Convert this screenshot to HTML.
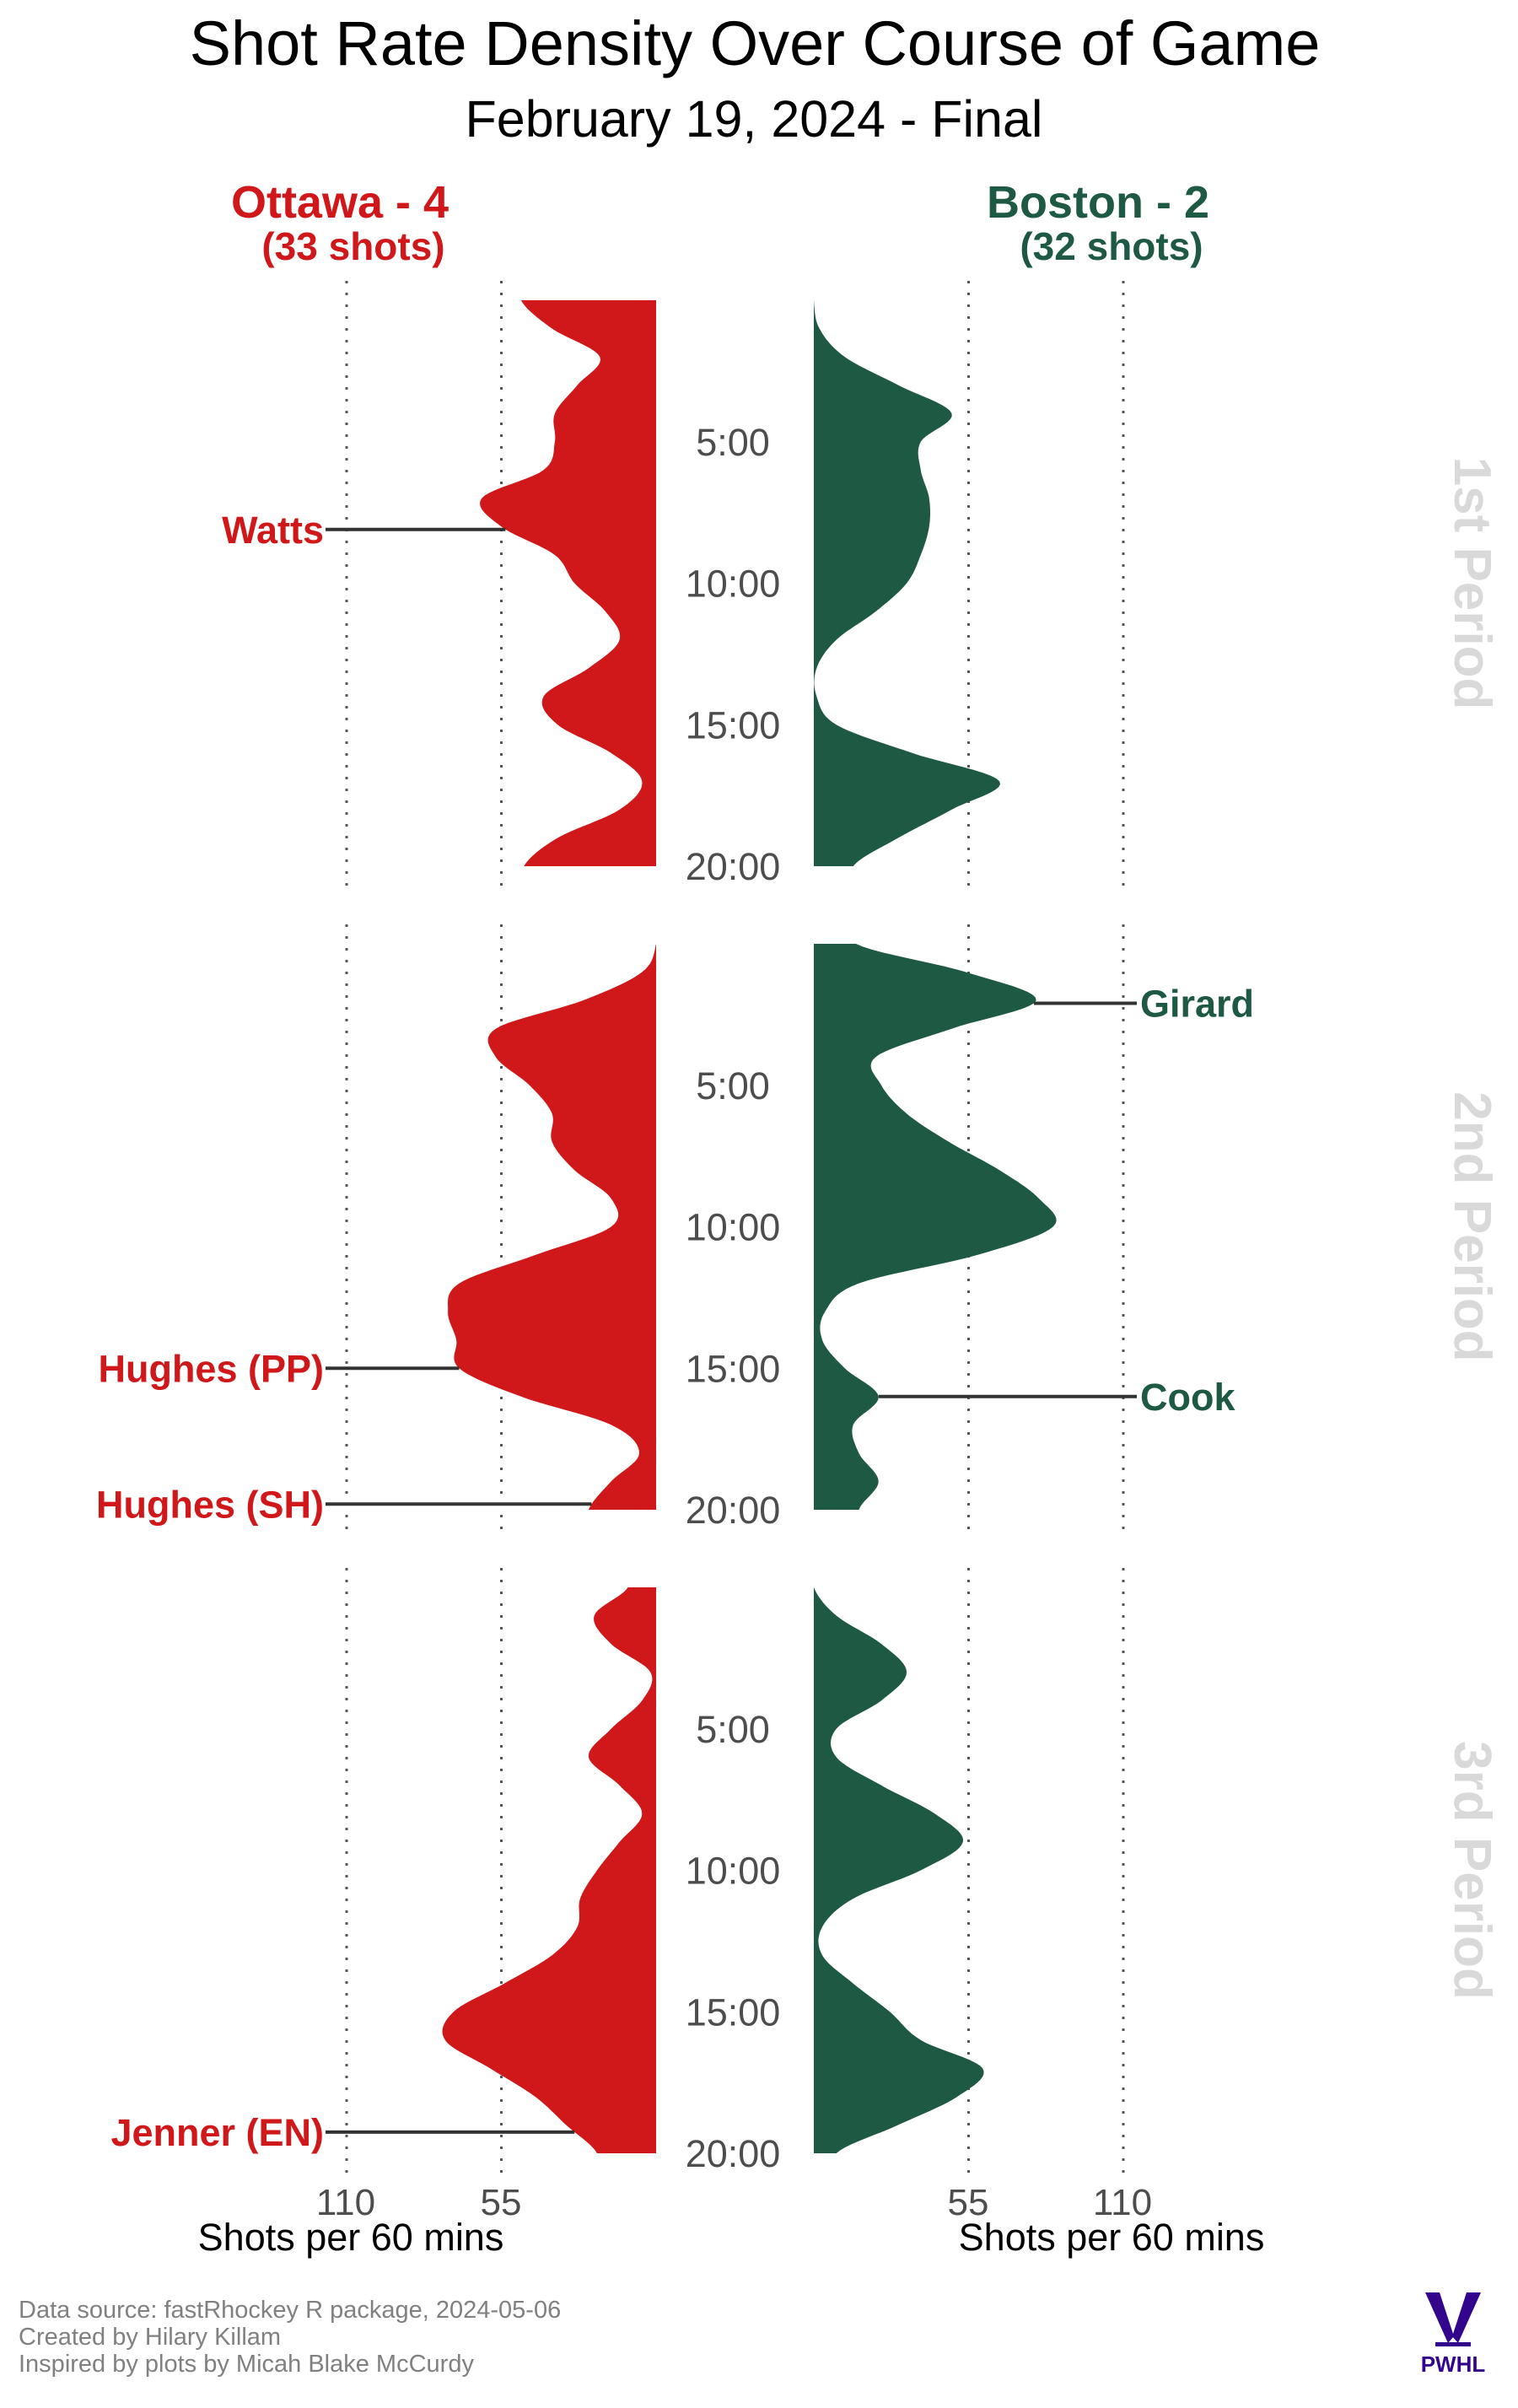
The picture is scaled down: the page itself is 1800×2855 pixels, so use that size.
<!DOCTYPE html>
<html><head><meta charset="utf-8">
<style>
html,body{margin:0;padding:0;background:#fff;}
body{width:1800px;height:2850px;overflow:hidden;font-family:"Liberation Sans",sans-serif;}
</style></head>
<body>
<svg id="chart" width="1800" height="2850" xmlns="http://www.w3.org/2000/svg" font-family="Liberation Sans, sans-serif">
  <text x="895" y="77" font-size="74" text-anchor="middle" fill="#000">Shot Rate Density Over Course of Game</text>
  <text x="894" y="162" font-size="61" text-anchor="middle" fill="#000">February 19, 2024 - Final</text>
  <text x="403" y="258" font-size="54" font-weight="bold" text-anchor="middle" fill="#d0181a">Ottawa - 4</text>
  <text x="419" y="308" font-size="46" font-weight="bold" text-anchor="middle" fill="#d0181a">(33 shots)</text>
  <text x="1302" y="258" font-size="54" font-weight="bold" text-anchor="middle" fill="#1e5a43">Boston - 2</text>
  <text x="1318" y="308" font-size="46" font-weight="bold" text-anchor="middle" fill="#1e5a43">(32 shots)</text>
  <g id="plot"></g>
  <text x="410" y="2626" font-size="44" text-anchor="middle" fill="#4d4d4d">110</text>
  <text x="594" y="2626" font-size="44" text-anchor="middle" fill="#4d4d4d">55</text>
  <text x="1148" y="2626" font-size="44" text-anchor="middle" fill="#4d4d4d">55</text>
  <text x="1331" y="2626" font-size="44" text-anchor="middle" fill="#4d4d4d">110</text>
  <text x="416" y="2668" font-size="45" text-anchor="middle" fill="#000">Shots per 60 mins</text>
  <text x="1318" y="2668" font-size="45" text-anchor="middle" fill="#000">Shots per 60 mins</text>
  <g font-size="29" fill="#808080">
    <text x="22" y="2748">Data source: fastRhockey R package, 2024-05-06</text>
    <text x="22" y="2780">Created by Hilary Killam</text>
    <text x="22" y="2812">Inspired by plots by Micah Blake McCurdy</text>
  </g>
  <g fill="#33058d">
    <polygon points="1690,2718 1707,2718 1724,2770 1717,2778"/>
    <polygon points="1756,2718 1739,2718 1722,2770 1729,2778"/>
    <rect x="1702" y="2777" width="42" height="5"/>
    <text x="1723" y="2812" font-size="26" font-weight="bold" text-anchor="middle">PWHL</text>
  </g>
</svg>
<script>
// shot rate (shots per 60) sampled each minute 0..20, per period
const minutes = [0,1,2,3,4,5,6,7,8,9,10,11,12,13,14,15,16,17,18,19,20];
const ottawaP1 = [48,37,20,28,36,36,40,62,55,36,29,18,13,24,40,35,16,5,13,35,47];
const ottawaP2 = [0,5,26,57,57,45,37,37,29,16,16,43,70,74,71,70,48,16,6,16,24];
const ottawaP3 = [10,22,16,2,5,16,24,13,5,13,21,27,28,37,54,72,75,59,43,32,21];
const bostonP1 = [0,2,11,30,49,38,38,41,41,38,33,22,8,1,1,8,35,66,49,30,14];
const bostonP2 = [15,54,79,49,22,24,33,48,66,80,85,58,16,4,3,11,23,14,16,23,16];
const bostonP3 = [0,8,24,33,24,8,8,24,43,53,38,14,3,3,14,27,38,60,51,30,8];
const timeTicks = ["5:00","10:00","15:00","20:00"];
const periodLabels = ["1st Period","2nd Period","3rd Period"];
// goals: period index, minute, label
const ottawaGoalPeriods = [0,1,1,2];
const ottawaGoalTimes = [8.1,15.0,19.8,19.25];
const ottawaGoalNames = ["Watts","Hughes (PP)","Hughes (SH)","Jenner (EN)"];
const bostonGoalPeriods = [1,1];
const bostonGoalTimes = [2.1,16.0];
const bostonGoalNames = ["Girard","Cook"];
const gridValues = [55,110];

const NS = "http://www.w3.org/2000/svg";
const plot = document.getElementById("plot");
const panelTops = [356,1119,1882];
const panelH = 671;
const leftBase = 778, rightBase = 965, pxPerUnit = 183.5/55;
const xLeft = v => leftBase - v*pxPerUnit;
const xRight = v => rightBase + v*pxPerUnit;
const yScale = (p,t) => panelTops[p] + t/20*panelH;

function mk(tag, attrs){ const e=document.createElementNS(NS,tag); for(const k in attrs) e.setAttribute(k,attrs[k]); plot.appendChild(e); return e; }

function interp(arr,t){ const i=Math.min(Math.floor(t),19); const f=t-i;
  const p0=arr[Math.max(i-1,0)],p1=arr[i],p2=arr[i+1],p3=arr[Math.min(i+2,20)];
  return 0.5*((2*p1)+(-p0+p2)*f+(2*p0-5*p1+4*p2-p3)*f*f+(-p0+3*p1-3*p2+p3)*f*f*f); }

function areaPath(arr,p,xf,base){
  let d=`M${base},${yScale(p,0)}`;
  for(let s=0;s<=200;s++){ const t=s/10; d+=` L${xf(Math.max(0,interp(arr,t))).toFixed(1)},${yScale(p,t).toFixed(1)}`; }
  d+=` L${base},${yScale(p,20)} Z`; return d; }

const ott=[ottawaP1,ottawaP2,ottawaP3], bos=[bostonP1,bostonP2,bostonP3];
for(let p=0;p<3;p++){
  gridValues.forEach(g=>{
    [xLeft(g),xRight(g)].forEach(x=>{
      const l=mk("line",{x1:x,x2:x,y1:panelTops[p]-23,y2:panelTops[p]+panelH+23,stroke:"#555","stroke-width":3,"stroke-dasharray":"3 11"});
      
      
    });
  });
  const a=mk("path",{d:areaPath(ott[p],p,xLeft,leftBase),fill:"#d0181a"});
  
  
  const b=mk("path",{d:areaPath(bos[p],p,xRight,rightBase),fill:"#1e5a43"});
  
  
  timeTicks.forEach((lab,i)=>{
    const tx=mk("text",{x:869,y:yScale(p,(i+1)*5)+16,"font-size":45,"text-anchor":"middle",fill:"#4d4d4d"});
    tx.textContent=lab;
    
    
  });
  const cy=panelTops[p]+panelH/2;
  const pl=mk("text",{x:1725,y:cy,"font-size":62,"font-weight":"bold","text-anchor":"middle",fill:"#d9d9d9",transform:`rotate(90 1725 ${cy})`});
  pl.textContent=periodLabels[p];
  
  
}
ottawaGoalNames.forEach((n,i)=>{
  const p=ottawaGoalPeriods[i], t=ottawaGoalTimes[i], y=yScale(p,t);
  const l=mk("line",{x1:386,x2:xLeft(interp(ott[p],t)),y1:y,y2:y,stroke:"#333","stroke-width":4});
  
  
  const tx=mk("text",{x:384,y:y+16,"font-size":45,"font-weight":"bold","text-anchor":"end",fill:"#d0181a"});
  tx.textContent=n;
  
  
});
bostonGoalNames.forEach((n,i)=>{
  const p=bostonGoalPeriods[i], t=bostonGoalTimes[i], y=yScale(p,t);
  const l=mk("line",{x1:xRight(interp(bos[p],t)),x2:1348,y1:y,y2:y,stroke:"#333","stroke-width":4});
  
  
  const tx=mk("text",{x:1352,y:y+16,"font-size":45,"font-weight":"bold","text-anchor":"start",fill:"#1e5a43"});
  tx.textContent=n;
  
  
});
</script>
</body></html>
